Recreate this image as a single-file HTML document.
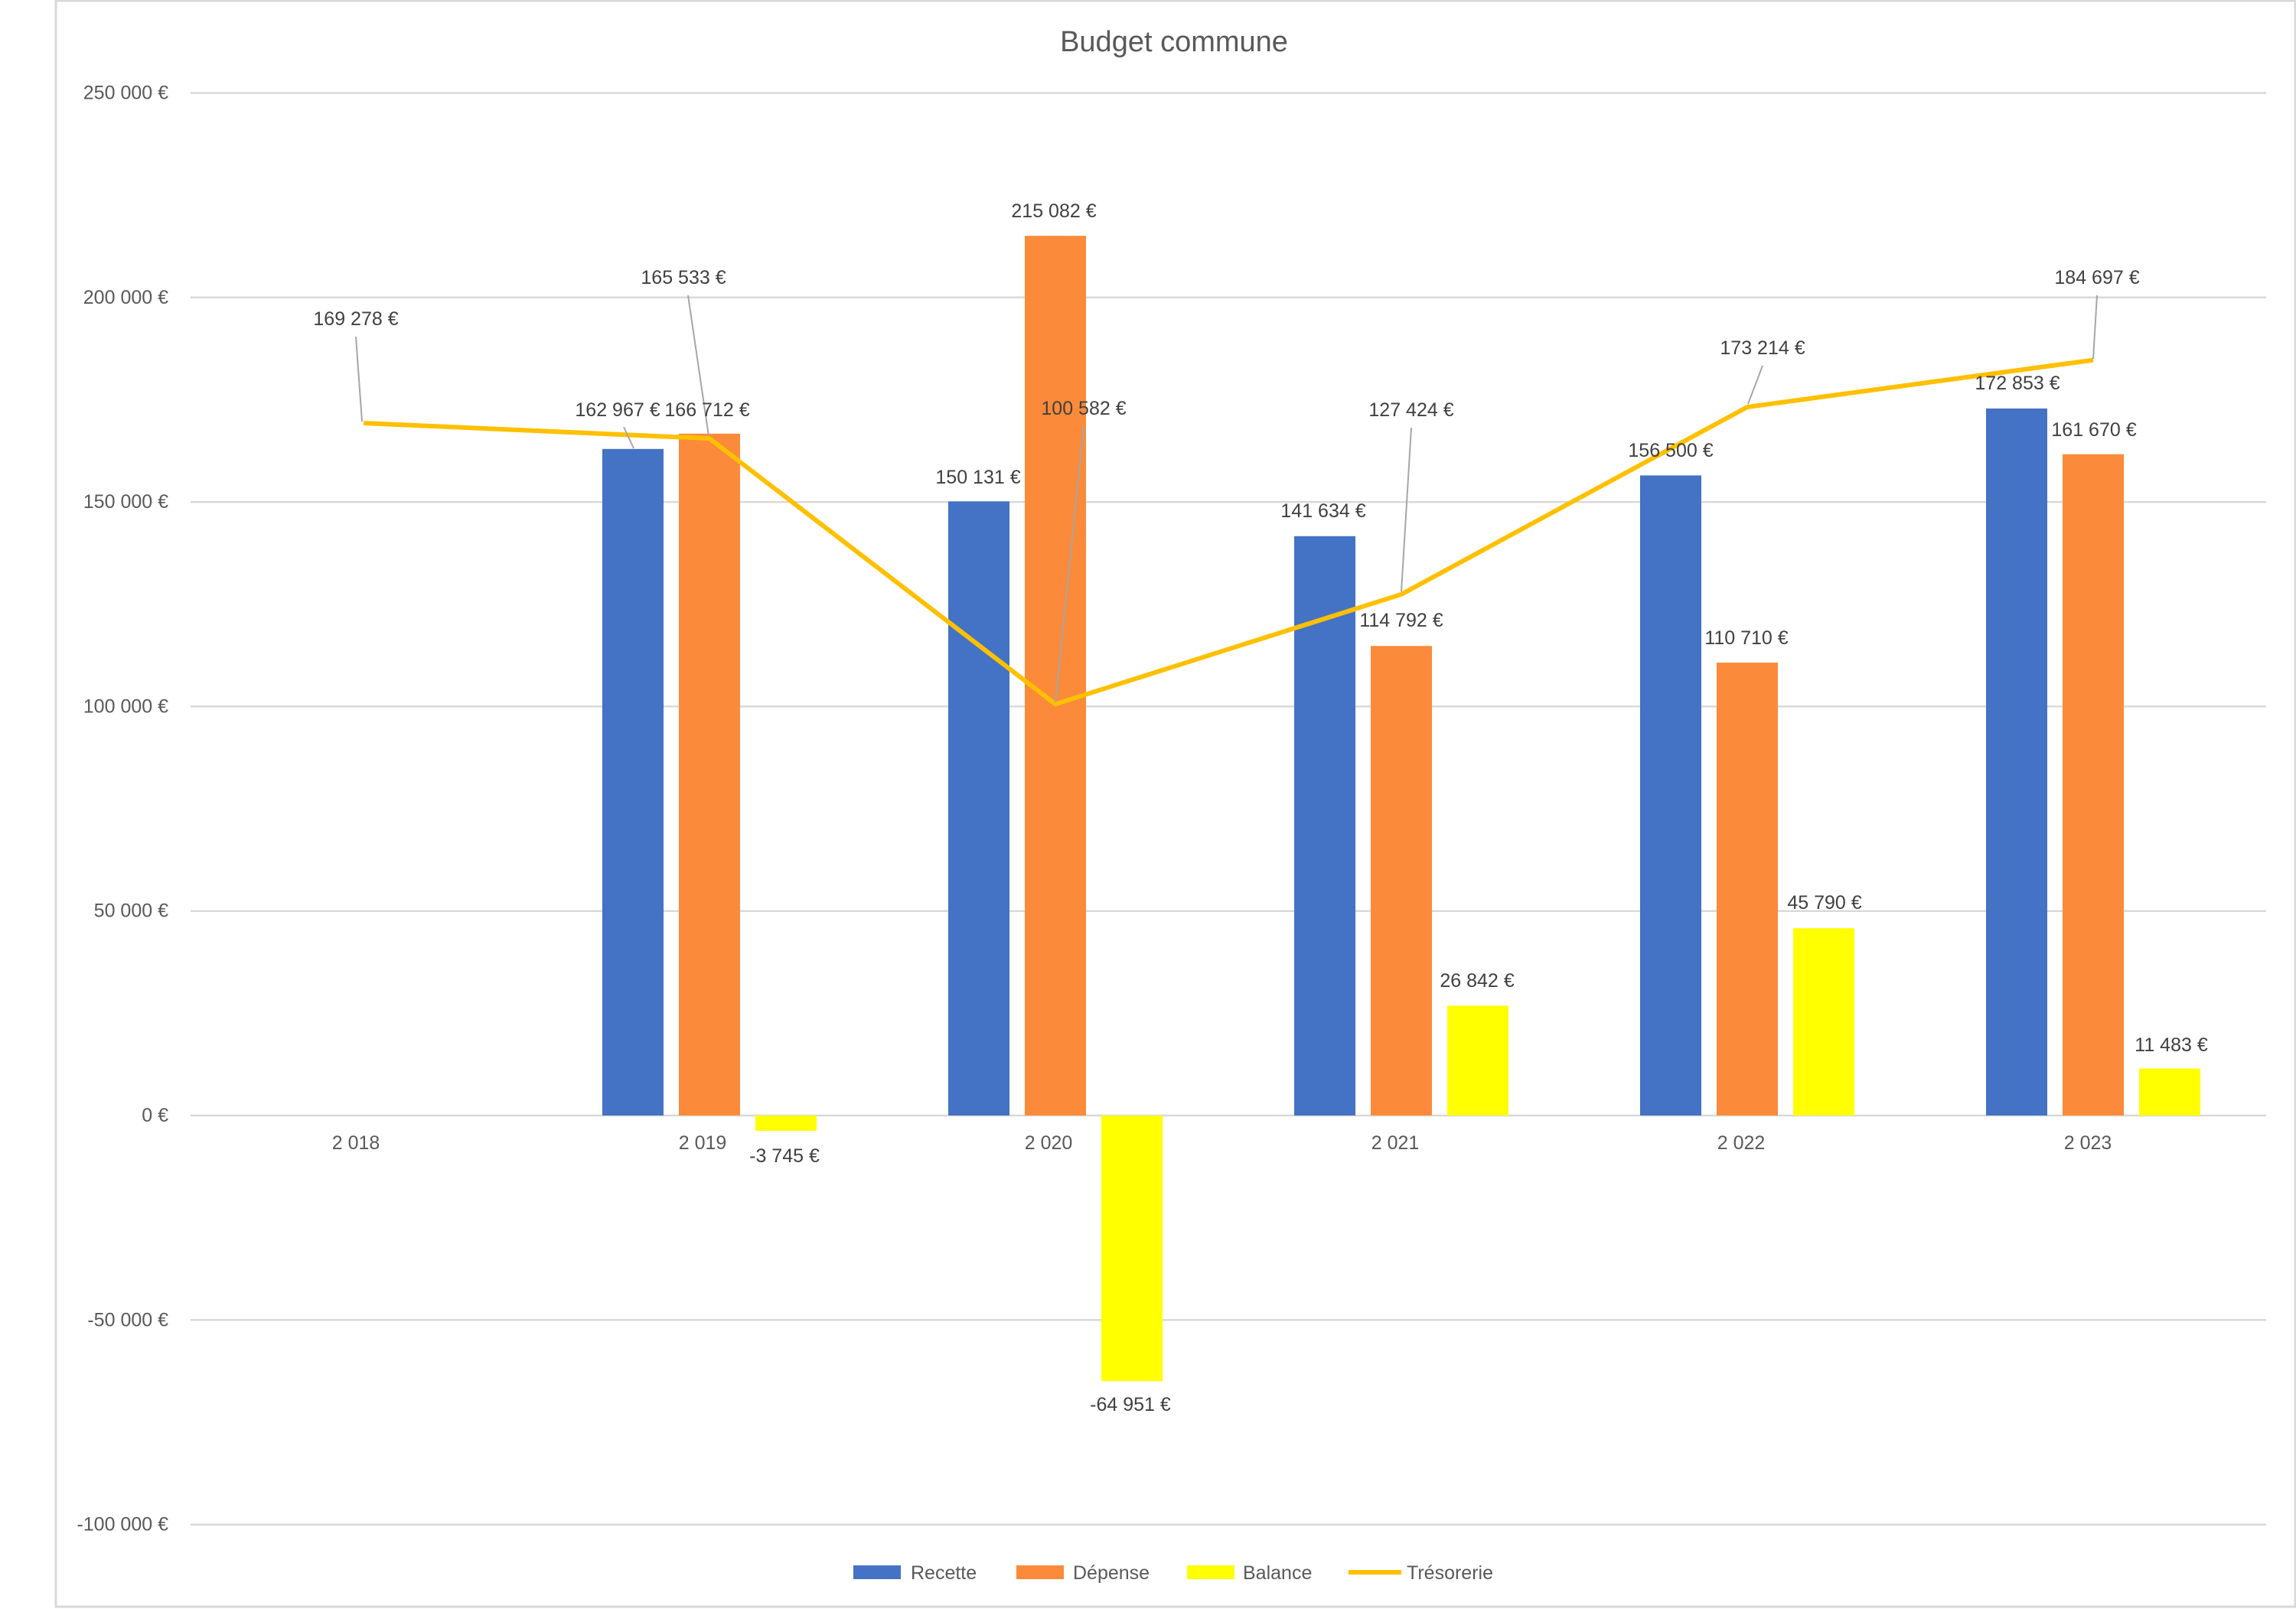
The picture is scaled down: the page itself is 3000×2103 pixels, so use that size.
<!DOCTYPE html>
<html><head><meta charset="utf-8"><style>
html,body{margin:0;padding:0;background:#fff}
svg{display:block}
text{font-family:"Liberation Sans",sans-serif;fill:#404040}
</style></head><body>
<svg width="3000" height="2103" viewBox="0 0 3000 2103" xmlns="http://www.w3.org/2000/svg">
<rect x="73" y="1" width="2926" height="2099" fill="#fff" stroke="#d9d9d9" stroke-width="3"/>
<text x="1534" y="55" font-size="38" text-anchor="middle" dominant-baseline="central" style="fill:#595959">Budget commune</text>
<g stroke="#d9d9d9" stroke-width="2.5">
<line x1="249" x2="2961" y1="121.5" y2="121.5"/>
<line x1="249" x2="2961" y1="388.8" y2="388.8"/>
<line x1="249" x2="2961" y1="656.1" y2="656.1"/>
<line x1="249" x2="2961" y1="923.4" y2="923.4"/>
<line x1="249" x2="2961" y1="1190.7" y2="1190.7"/>
<line x1="249" x2="2961" y1="1458" y2="1458"/>
<line x1="249" x2="2961" y1="1725.3" y2="1725.3"/>
<line x1="249" x2="2961" y1="1992.6" y2="1992.6"/>
</g>
<g font-size="25" text-anchor="end" dominant-baseline="central" style="fill:#595959">
<text x="220" y="121.5" style="fill:#595959">250 000 €</text>
<text x="220" y="388.8" style="fill:#595959">200 000 €</text>
<text x="220" y="656.1" style="fill:#595959">150 000 €</text>
<text x="220" y="923.4" style="fill:#595959">100 000 €</text>
<text x="220" y="1190.7" style="fill:#595959">50 000 €</text>
<text x="220" y="1458" style="fill:#595959">0 €</text>
<text x="220" y="1725.3" style="fill:#595959">-50 000 €</text>
<text x="220" y="1992.6" style="fill:#595959">-100 000 €</text>
</g>
<!-- bars -->
<g fill="#4472C4">
<rect x="787" y="586.8" width="80" height="871.2"/>
<rect x="1239" y="655.4" width="80" height="802.6"/>
<rect x="1691" y="700.8" width="80" height="757.2"/>
<rect x="2143" y="621.4" width="80" height="836.6"/>
<rect x="2595" y="533.9" width="80" height="924.1"/>
</g>
<g fill="#FB8A3A">
<rect x="887" y="566.8" width="80" height="891.2"/>
<rect x="1339" y="308.2" width="80" height="1149.8"/>
<rect x="1791" y="844.3" width="80" height="613.7"/>
<rect x="2243" y="866.1" width="80" height="591.9"/>
<rect x="2695" y="593.7" width="80" height="864.3"/>
</g>
<g fill="#FFFF00">
<rect x="987" y="1458" width="80" height="20"/>
<rect x="1439" y="1458" width="80" height="347.2"/>
<rect x="1891" y="1314.5" width="80" height="143.5"/>
<rect x="2343" y="1213.2" width="80" height="244.8"/>
<rect x="2795" y="1396.6" width="80" height="61.4"/>
</g>
<polyline points="475,553 927,573.1 1379,920.3 1831,776.8 2283,532 2735,470.6" fill="none" stroke="#FFC000" stroke-width="6" stroke-linejoin="round"/>
<!-- leader lines -->
<g stroke="#a6a6a6" stroke-width="2" fill="none">
<line x1="465" y1="440" x2="473" y2="551"/>
<line x1="815" y1="558" x2="828" y2="586"/>
<line x1="899" y1="386" x2="926" y2="570"/>
<line x1="1416" y1="557" x2="1379" y2="918"/>
<line x1="1844" y1="559" x2="1831" y2="773"/>
<line x1="2303" y1="478" x2="2284" y2="528"/>
<line x1="2740" y1="386" x2="2735" y2="469"/>
</g>
<g font-size="25" text-anchor="middle" dominant-baseline="central">
<text x="465" y="417">169 278 €</text>
<text x="807" y="536">162 967 €</text>
<text x="924" y="536">166 712 €</text>
<text x="893" y="363">165 533 €</text>
<text x="1025" y="1511">-3 745 €</text>
<text x="1278" y="624">150 131 €</text>
<text x="1377" y="276">215 082 €</text>
<text x="1416" y="534">100 582 €</text>
<text x="1477" y="1836">-64 951 €</text>
<text x="1729" y="668">141 634 €</text>
<text x="1831" y="811">114 792 €</text>
<text x="1844" y="536">127 424 €</text>
<text x="1930" y="1282">26 842 €</text>
<text x="2183" y="589">156 500 €</text>
<text x="2282" y="834">110 710 €</text>
<text x="2303" y="455">173 214 €</text>
<text x="2384" y="1180">45 790 €</text>
<text x="2636" y="501">172 853 €</text>
<text x="2736" y="562">161 670 €</text>
<text x="2740" y="363">184 697 €</text>
<text x="2837" y="1366">11 483 €</text>
</g>
<g font-size="25" text-anchor="middle" dominant-baseline="central">
<text x="465" y="1494" style="fill:#595959">2 018</text>
<text x="918" y="1494" style="fill:#595959">2 019</text>
<text x="1370" y="1494" style="fill:#595959">2 020</text>
<text x="1823" y="1494" style="fill:#595959">2 021</text>
<text x="2275" y="1494" style="fill:#595959">2 022</text>
<text x="2728" y="1494" style="fill:#595959">2 023</text>
</g>
<!-- legend -->
<rect x="1115" y="2046" width="62" height="18" fill="#4472C4"/>
<text x="1190" y="2056" font-size="25" dominant-baseline="central" style="fill:#595959">Recette</text>
<rect x="1328" y="2046" width="62" height="18" fill="#FB8A3A"/>
<text x="1402" y="2056" font-size="25" dominant-baseline="central" style="fill:#595959">Dépense</text>
<rect x="1551" y="2046" width="62" height="18" fill="#FFFF00"/>
<text x="1624" y="2056" font-size="25" dominant-baseline="central" style="fill:#595959">Balance</text>
<line x1="1762" y1="2055" x2="1831" y2="2055" stroke="#FFC000" stroke-width="6"/>
<text x="1838" y="2056" font-size="25" dominant-baseline="central" style="fill:#595959">Trésorerie</text>
</svg>
</body></html>
